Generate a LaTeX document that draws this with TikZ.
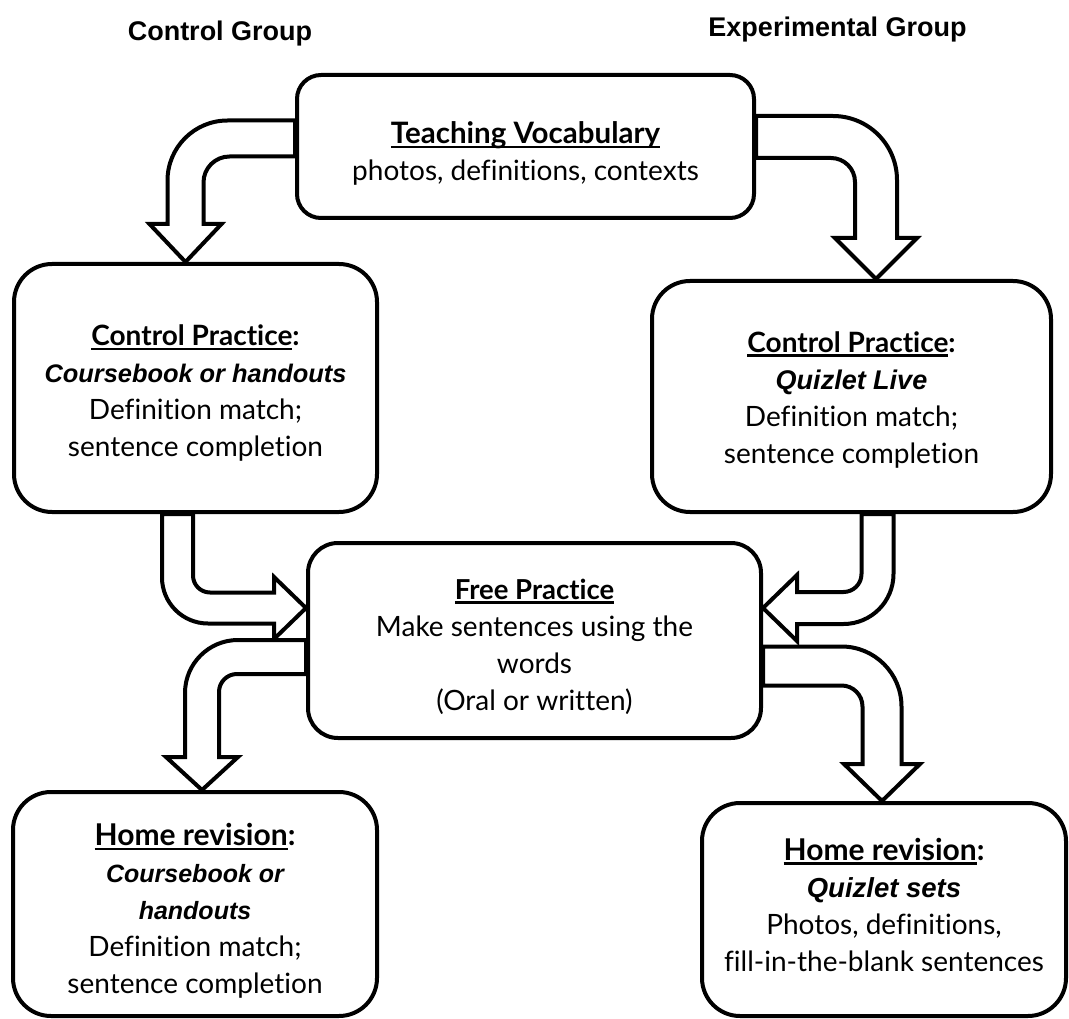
\documentclass[tikz,border=0pt]{standalone}
\usepackage{fontspec}
\setmainfont{Lato}[Ligatures=NoCommon]
\newfontfamily\arialf{Liberation Sans}
\usetikzlibrary{calc}
\newcommand\ulx[1]{\setbox0\hbox{#1}\rlap{\rule[-4.5pt]{\wd0}{2.4pt}}\box0}
\newcommand\hd[2]{{\fontsize{#1}{37}\selectfont\bfseries #2}}
\newcommand\bi[2]{{\arialf\fontsize{#1}{37}\selectfont\bfseries\itshape #2}}
\tikzset{
  box/.style={draw, line width=4pt, rounded corners=#1, fill=white, inner sep=0pt},
  box/.default=38pt,
  boxtext/.style={align=center, inner sep=0pt, font=\fontsize{28}{37}\selectfont},
  blockarrow/.style={draw, line width=4pt, fill=white, line join=miter},
  grouptitle/.style={font=\arialf\bfseries\fontsize{27}{32}\selectfont, anchor=base, inner sep=0pt}
}
% horizontal then down: start, tip, w, h, L, R, r, s
\newcommand\hvarrow[8]{%
  \draw[blockarrow] let \p1=(#1), \p2=(#2) in
  ({\x1},{\y1+#3pt}) -- ({\x2+(#8)*(#3pt)-(#8)*(#6pt)},{\y1+#3pt})
  arc[start angle=90, end angle={90-90*(#8)}, radius=#6pt]
  -- ({\x2+(#8)*(#3pt)},{\y2+#5pt}) -- ({\x2+(#8)*(#4pt)},{\y2+#5pt}) -- (\x2,\y2)
  -- ({\x2-(#8)*(#4pt)},{\y2+#5pt}) -- ({\x2-(#8)*(#3pt)},{\y2+#5pt})
  -- ({\x2-(#8)*(#3pt)},{\y1-#3pt-#7pt})
  arc[start angle={90-90*(#8)}, end angle=90, radius=#7pt]
  -- ({\x1},{\y1-#3pt}) -- cycle;}
% down then horizontal: start, tip, w, h, L, R, r, s
\newcommand\vharrow[8]{%
  \draw[blockarrow] let \p1=(#1), \p2=(#2) in
  ({\x1-(#8)*(#3pt)},{\y1}) -- ({\x1-(#8)*(#3pt)},{\y2-#3pt+#6pt})
  arc[start angle={90+90*(#8)}, end angle={90+180*(#8)}, radius=#6pt]
  -- ({\x2-(#8)*(#5pt)},{\y2-#3pt}) -- ({\x2-(#8)*(#5pt)},{\y2-#4pt}) -- (\x2,\y2)
  -- ({\x2-(#8)*(#5pt)},{\y2+#4pt}) -- ({\x2-(#8)*(#5pt)},{\y2+#3pt})
  -- ({\x1+(#8)*(#3pt)+(#8)*(#7pt)},{\y2+#3pt})
  arc[start angle={90+180*(#8)}, end angle={90+90*(#8)}, radius=#7pt]
  -- ({\x1+(#8)*(#3pt)},{\y1}) -- cycle;}
\begin{document}
\begin{tikzpicture}[x=1pt,y=-1pt]
\useasboundingbox (0,0) rectangle (1069,1019);
\node[grouptitle] (cg) at (220,41) {Control Group};
\node[grouptitle] (eg) at (837.5,37) {Experimental Group};

\node[box=24pt, minimum width=457pt, minimum height=143pt] (tv) at (525.5,146.5) {};
\node[box, minimum width=363pt, minimum height=248pt] (cpl) at (195.5,388) {};
\node[box, minimum width=399pt, minimum height=231pt] (cpr) at (851.5,396.5) {};
\node[box=30pt, minimum width=453pt, minimum height=195pt] (fp) at (534.5,640.5) {};
\node[box, minimum width=364pt, minimum height=224pt] (hrl) at (195,904) {};
\node[box, minimum width=364pt, minimum height=213pt] (hrr) at (884,909.5) {};

\node[boxtext] (tvt) at ([yshift=-7pt]tv.center)
  {\hd{29.5}{\ulx{Teaching Vocabulary}}\\ photos, definitions, contexts};
\node[boxtext] (cplt) at ([yshift=-5pt]cpl.center)
  {\hd{28}{\ulx{Control Practice}:}\\ \bi{25.4}{Coursebook or handouts}\\ Definition match;\\ sentence completion};
\node[boxtext] (cprt) at ([yshift=-3pt]cpr.center)
  {\hd{28}{\ulx{Control Practice}:}\\ \bi{27}{Quizlet Live}\\ Definition match;\\ sentence completion};
\node[boxtext] (fpt) at ([yshift=-6pt]fp.center)
  {\hd{27.5}{\ulx{Free Practice}}\\ Make sentences using the\\ words\\ (Oral or written)};
\node[boxtext] (hrlt) at ([yshift=-7pt]hrl.center)
  {\hd{30}{\ulx{Home revision}:}\\ \bi{25}{Coursebook or}\\ \bi{25}{handouts}\\ Definition match;\\ sentence completion};
\node[boxtext] (hrrt) at ([yshift=5pt]hrr.center)
  {\hd{30}{\ulx{Home revision}:}\\ \bi{27.5}{Quizlet sets}\\ Photos, definitions,\\ fill-in-the-blank sentences};

\hvarrow{[yshift=8pt]tv.west}{[xshift=-10pt]cpl.north}{18}{36}{38}{60}{26}{-1}
\hvarrow{[yshift=9.5pt]tv.east}{[xshift=24.5pt]cpr.north}{21}{41}{41}{64}{24}{1}
\vharrow{[xshift=-18pt]cpl.south}{[yshift=32.5pt]fp.west}{15.5}{31}{32}{46}{17}{1}
\vharrow{[xshift=26pt]cpr.south}{[yshift=32.5pt]fp.east}{16}{33}{34}{50}{18}{-1}
\hvarrow{[yshift=-16.5pt]fp.west}{[xshift=7pt]hrl.north}{17}{36}{33}{53}{18}{-1}
\hvarrow{[yshift=-25.5pt]fp.east}{[xshift=-2pt]hrr.north}{19.5}{38}{37}{60}{21}{1}
\end{tikzpicture}
\end{document}
